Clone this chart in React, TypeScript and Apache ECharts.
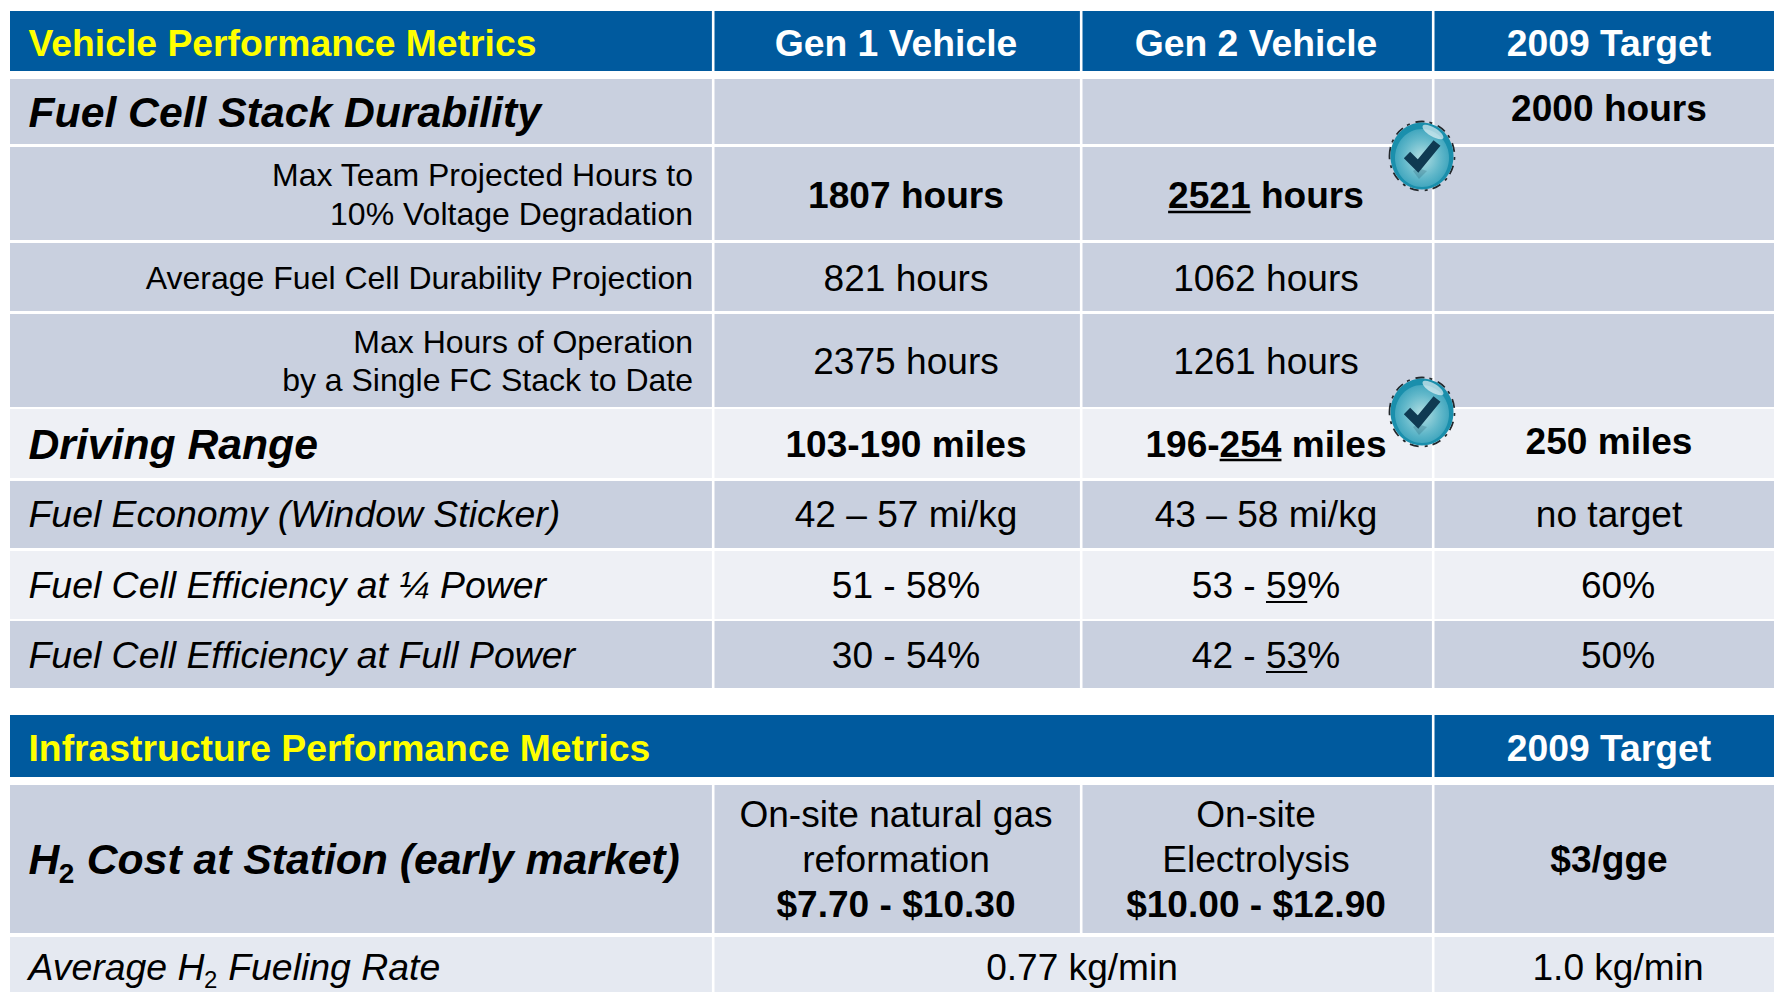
import React, { useEffect, useRef } from "react";
import * as echarts from "echarts";

const FONT = '"Liberation Sans", Arial, sans-serif';
const W = 1774, H = 992;

// ---------- content ----------
const vehicleHeaders = ["Vehicle Performance Metrics", "Gen 1 Vehicle", "Gen 2 Vehicle", "2009 Target"];
const durabilityTitle = "Fuel Cell Stack Durability";
const durabilityTarget = "2000 hours";
const maxProjectedLabel = ["Max Team Projected Hours to", "10% Voltage Degradation"];
const maxProjectedValues = ["1807 hours", "2521 hours"];
const averageLabel = "Average Fuel Cell Durability Projection";
const averageValues = ["821 hours", "1062 hours"];
const maxOperationLabel = ["Max Hours of Operation", "by a Single FC Stack to Date"];
const maxOperationValues = ["2375 hours", "1261 hours"];
const drivingRow = ["Driving Range", "103-190 miles", "196-254 miles", "250 miles"];
const economyRow = ["Fuel Economy (Window Sticker)", "42 – 57 mi/kg", "43 – 58 mi/kg", "no target"];
const quarterRow = ["Fuel Cell Efficiency at ¼ Power", "51 - 58%", "53 - 59%", "60%"];
const fullRow = ["Fuel Cell Efficiency at Full Power", "30 - 54%", "42 - 53%", "50%"];
const infraHeaders = ["Infrastructure Performance Metrics", "2009 Target"];
const costTitle = ["H", "2", " Cost at Station (early market)"];
const costGas = ["On-site natural gas", "reformation", "$7.70 - $10.30"];
const costElectro = ["On-site", "Electrolysis", "$10.00 - $12.90"];
const costTarget = "$3/gge";
const fuelingLabel = ["Average H", "2", " Fueling Rate"];
const fuelingValue = "0.77 kg/min";
const fuelingTarget = "1.0 kg/min";

// ---------- layout ----------
const NAVY = "#005a9e", DARK = "#c9d0df", LIGHT = "#eef0f5", PALE = "#e5e9f1";
const colX = [10, 714.5, 1082.5, 1434.5, 1774];
const GAP = 2.6;
const vehicleRows: [number, number, string][] = [
  [79, 144, DARK], [147, 240, DARK], [243, 311, DARK], [314, 407, DARK],
  [409, 478, LIGHT], [481, 548, DARK], [551, 619, LIGHT], [621, 688, DARK],
];
const cx1 = 906, cx2 = 1266, cxH1 = 896, cxH2 = 1256, cxT = 1609, cxT2 = 1618;
const labelRight = 693, leftX = 28.5;
const SIZE = { head: 37.3, title: 42.7, val: 37.1, label: 32, row: 37.1, rowItalic: 37.4 };

const measure = (() => {
  const ctx = document.createElement("canvas").getContext("2d")!;
  return (s: string, font: string) => { ctx.font = font; return ctx.measureText(s).width; };
})();

function txt(text: string, x: number, y: number, size: number, opt: any = {}) {
  return {
    type: "text", x, y, silent: true,
    style: {
      text, fontFamily: FONT, fontSize: size,
      fontWeight: opt.bold ? "bold" : "normal",
      fontStyle: opt.italic ? "italic" : "normal",
      fill: opt.fill || "#000",
      align: opt.align || "center", verticalAlign: "middle",
    },
  };
}
function rect(x0: number, y0: number, x1: number, y1: number, fill: string) {
  return { type: "rect", silent: true, shape: { x: x0, y: y0, width: x1 - x0, height: y1 - y0 }, style: { fill } };
}
function underline(full: string, part: string, cx: number, y: number, size: number, bold: boolean) {
  const font = `${bold ? "bold " : ""}${size}px "Liberation Sans"`;
  const total = measure(full, font);
  const start = full.indexOf(part);
  const x0 = cx - total / 2 + measure(full.slice(0, start), font);
  const x1 = x0 + measure(part, font);
  return { type: "line", silent: true, shape: { x1: x0, y1: y, x2: x1, y2: y }, style: { stroke: "#000", lineWidth: bold ? 2.4 : 2 } };
}
function subText(parts: string[], x: number, y: number, size: number, subSize: number, bold: boolean) {
  const font = `italic ${bold ? "bold " : ""}${size}px "Liberation Sans"`;
  const subFont = `${bold ? "bold " : ""}${subSize}px "Liberation Sans"`;
  const w0 = measure(parts[0], font), w1 = measure(parts[1], subFont);
  return [
    txt(parts[0], x, y, size, { bold, italic: true, align: "left" }),
    txt(parts[1], x + w0 - 0.5, y + size * 0.34, subSize, { bold, align: "left" }),
    txt(parts[2], x + w0 + w1, y, size, { bold, italic: true, align: "left" }),
  ];
}
function badge(cx: number, cy: number) {
  return {
    type: "group", x: cx, y: cy, silent: true,
    children: [
      { type: "ellipse", shape: { cx: 0, cy: 0, rx: 32.5, ry: 34.5 }, style: { fill: "none", stroke: "#23282c", lineWidth: 1.8, lineDash: [9, 5, 3, 6] } },
      { type: "ellipse", shape: { cx: 0, cy: 0, rx: 31.5, ry: 33.5 }, style: { fill: "#1a8fac" } },
      {
        type: "ellipse", shape: { cx: 0, cy: 2, rx: 27, ry: 29 },
        style: {
          fill: new echarts.graphic.RadialGradient(0.5, 0.5, 0.62, [
            { offset: 0, color: "#b4dfe3" }, { offset: 0.55, color: "#62b8ca" }, { offset: 1, color: "#2a9ab6" },
          ]),
        },
      },
      {
        type: "polygon", shape: { points: [[-9, 15], [-3, 23], [5, 15], [-4, 12]] },
        style: { fill: "rgba(15,58,82,0.2)" },
      },
      {
        type: "polyline", shape: { points: [[-15, -1], [-4, 10], [15, -13]] },
        style: { stroke: "#0f3a52", lineWidth: 9, fill: "none", lineJoin: "miter" },
      },
      {
        type: "ellipse", shape: { cx: 11, cy: -24, rx: 12, ry: 4.5 }, rotation: -0.55, originX: 11, originY: -24,
        style: { fill: "rgba(255,255,255,0.6)" },
      },
    ],
  };
}

function buildGraphics() {
  const g: any[] = [];
  // vehicle header band
  for (let c = 0; c < 4; c++) g.push(rect(colX[c], 11, colX[c + 1] - (c < 3 ? GAP : 0), 71, NAVY));
  for (const [t, b, f] of vehicleRows)
    for (let c = 0; c < 4; c++) g.push(rect(colX[c], t, colX[c + 1] - (c < 3 ? GAP : 0), b, f));
  // infrastructure bands
  g.push(rect(colX[0], 715, colX[3] - GAP, 777, NAVY), rect(colX[3], 715, colX[4], 777, NAVY));
  for (let c = 0; c < 4; c++) g.push(rect(colX[c], 785, colX[c + 1] - (c < 3 ? GAP : 0), 933, DARK));
  g.push(rect(colX[0], 937, colX[1] - GAP, 992, PALE), rect(colX[1], 937, colX[3] - GAP, 992, PALE), rect(colX[3], 937, colX[4], 992, PALE));

  // headers
  const bw = { bold: true, fill: "#fff" };
  g.push(txt(vehicleHeaders[0], leftX, 43, SIZE.head, { bold: true, fill: "#ffff00", align: "left" }));
  g.push(txt(vehicleHeaders[1], cxH1, 43, SIZE.head, bw), txt(vehicleHeaders[2], cxH2, 43, SIZE.head, bw), txt(vehicleHeaders[3], cxT, 43, SIZE.head, bw));

  // durability
  g.push(txt(durabilityTitle, leftX, 112, SIZE.title, { bold: true, italic: true, align: "left" }));
  g.push(txt(durabilityTarget, cxT, 108, SIZE.val, { bold: true }));
  g.push(txt(maxProjectedLabel[0], labelRight, 175, SIZE.label, { align: "right" }));
  g.push(txt(maxProjectedLabel[1], labelRight, 214, SIZE.label, { align: "right" }));
  g.push(txt(maxProjectedValues[0], cx1, 195, SIZE.val, { bold: true }));
  g.push(txt(maxProjectedValues[1], cx2, 195, SIZE.val, { bold: true }));
  g.push(underline(maxProjectedValues[1], "2521", cx2, 212, SIZE.val, true));
  g.push(txt(averageLabel, labelRight, 278, SIZE.label, { align: "right" }));
  g.push(txt(averageValues[0], cx1, 278, SIZE.val), txt(averageValues[1], cx2, 278, SIZE.val));
  g.push(txt(maxOperationLabel[0], labelRight, 342, SIZE.label, { align: "right" }));
  g.push(txt(maxOperationLabel[1], labelRight, 380, SIZE.label, { align: "right" }));
  g.push(txt(maxOperationValues[0], cx1, 361, SIZE.val), txt(maxOperationValues[1], cx2, 361, SIZE.val));

  // driving range
  g.push(txt(drivingRow[0], leftX, 444, SIZE.title, { bold: true, italic: true, align: "left" }));
  g.push(txt(drivingRow[1], cx1, 444, SIZE.val, { bold: true }), txt(drivingRow[2], cx2, 444, SIZE.val, { bold: true }));
  g.push(underline(drivingRow[2], "254", cx2, 460, SIZE.val, true));
  g.push(txt(drivingRow[3], cxT, 441, SIZE.val, { bold: true }));

  // economy / efficiency rows
  const rows: [string[], number, number][] = [[economyRow, 514, cxT], [quarterRow, 585, cxT2], [fullRow, 655, cxT2]];
  for (const [r, y, tx] of rows) {
    g.push(txt(r[0], leftX, y, SIZE.rowItalic, { italic: true, align: "left" }));
    g.push(txt(r[1], cx1, y, SIZE.row), txt(r[2], cx2, y, SIZE.row), txt(r[3], tx, y, SIZE.row));
  }
  g.push(underline(quarterRow[2], "59", cx2, 602, SIZE.row, false));
  g.push(underline(fullRow[2], "53", cx2, 672, SIZE.row, false));

  // infrastructure
  g.push(txt(infraHeaders[0], leftX, 748, SIZE.head, { bold: true, fill: "#ffff00", align: "left" }));
  g.push(txt(infraHeaders[1], cxT, 748, SIZE.head, bw));
  g.push(...subText(costTitle, leftX, 859, SIZE.title, 28, true));
  [costGas, costElectro].forEach((c, i) => {
    const x = i ? cxH2 : cxH1;
    g.push(txt(c[0], x, 814, SIZE.row), txt(c[1], x, 859, SIZE.row), txt(c[2], x, 904, SIZE.val, { bold: true }));
  });
  g.push(txt(costTarget, cxT, 859, SIZE.val, { bold: true }));
  g.push(...subText(fuelingLabel, leftX, 967, SIZE.rowItalic, 24, false));
  g.push(txt(fuelingValue, 1082, 967, SIZE.row), txt(fuelingTarget, cxT2, 967, SIZE.row));

  g.push(badge(1422, 156), badge(1422, 412));
  return g;
}

export default function App() {
  const ref = useRef<HTMLDivElement>(null);
  useEffect(() => {
    document.body.style.margin = "0";
    document.body.style.overflow = "hidden";
    const chart = echarts.init(ref.current!, null, { renderer: "svg", width: W, height: H });
    chart.setOption({ animation: false, backgroundColor: "#fff", graphic: { elements: buildGraphics() } });
    return () => chart.dispose();
  }, []);
  return <div ref={ref} style={{ width: W, height: H }} />;
}
